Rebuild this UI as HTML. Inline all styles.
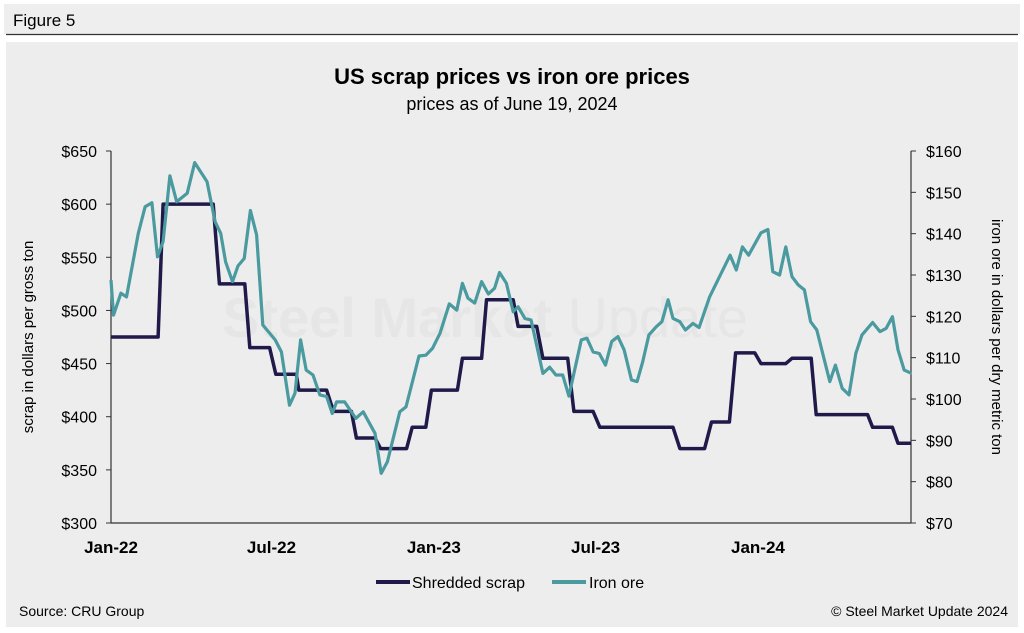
<!DOCTYPE html>
<html><head><meta charset="utf-8">
<style>
body{margin:0;width:1024px;height:633px;background:#fff;font-family:"Liberation Sans",sans-serif;overflow:hidden}
svg{position:absolute;left:0;top:0}
</style></head>
<body>
<svg width="1024" height="633">
<rect x="4" y="4" width="1016" height="30" fill="#eeeeee"/>
<text x="13" y="26" font-size="17" fill="#000">Figure 5</text>
<line x1="6" y1="34.5" x2="1018" y2="34.5" stroke="#333" stroke-width="1.2"/>
<rect x="5" y="41" width="1014" height="587" fill="#ededed" stroke="#fff" stroke-width="2"/>
<text x="512" y="84" font-size="22" font-weight="bold" text-anchor="middle">US scrap prices vs iron ore prices</text>
<text x="512" y="110" font-size="18" text-anchor="middle">prices as of June 19, 2024</text>
<text x="485" y="337" font-size="56" font-weight="bold" fill="#e6e6e6" text-anchor="middle">Steel Market <tspan font-weight="normal">Update</tspan></text>
<g id="axes"></g>
<g id="series"></g>
<text x="33" y="337" font-size="15" text-anchor="middle" transform="rotate(-90 33 337)">scrap in dollars per gross ton</text>
<text x="992" y="337" font-size="15" text-anchor="middle" transform="rotate(90 992 337)">iron ore in dollars per dry metric ton</text>
<g>
<line x1="376" y1="582" x2="410" y2="582" stroke="#1f1a4a" stroke-width="4"/>
<text x="412" y="588" font-size="16">Shredded scrap</text>
<line x1="552" y1="582" x2="586" y2="582" stroke="#4a9aa0" stroke-width="4"/>
<text x="589" y="588" font-size="16">Iron ore</text>
</g>
<text x="19" y="616" font-size="14">Source: CRU Group</text>
<text x="1008" y="616" font-size="14" text-anchor="end">© Steel Market Update 2024</text>
</svg>
<script>
const leftTicks=[300,350,400,450,500,550,600,650];
const rightTicks=[70,80,90,100,110,120,130,140,150,160];
const xLabels=["Jan-22","Jul-22","Jan-23","Jul-23","Jan-24"];
const xLabelWeeks=[0,25.9,52.1,78.2,104.4];
const scrapWeeks=[0,7.6,8.4,16.5,17.5,21.6,22.4,25.6,26.6,29.9,30.3,34.8,35.9,38.8,39.6,42.6,43.5,47.7,48.6,50.8,51.7,55.9,56.7,59.8,60.6,64.1,64.9,65.7,68.7,69.7,73.7,74.7,77.8,78.9,90.7,91.8,95.8,96.9,99.8,100.8,103.9,104.9,108.9,109.9,113,113.8,122.1,122.9,126.1,127,129.1];
const scrapValues=[475,475,600,600,525,525,465,465,440,440,425,425,405,405,380,380,370,370,390,390,425,425,455,455,510,510,510,485,485,455,455,405,405,390,390,370,370,395,395,460,460,450,450,455,455,402,402,390,390,375,375];
const ironWeeks=[0,0.4,1.6,2.5,4.4,5.5,6.6,7.5,8.4,9.5,10.6,12.3,13.5,15.5,16.8,17.7,18.5,19.6,20.5,21.5,22.5,23.5,24.5,26.5,27.5,28.8,29.7,30.6,31.5,32.6,33.7,34.8,35.7,36.4,37.7,39.5,40.7,42.6,43.6,44.6,46.6,47.6,49.7,50.8,51.9,53.1,54.6,55.8,56.7,57.6,58.7,59.8,60.9,61.9,62.7,63.8,64.9,65.7,66.8,67.8,69.7,70.8,71.8,72.9,73.9,75.9,76.8,77.8,78.8,79.8,80.8,81.8,82.8,84,84.9,85.8,86.8,88,88.9,89.9,90.7,91.8,92.7,93.9,94.9,96.6,98.2,99.9,100.9,101.9,102.9,104.9,106,106.8,107.9,108.9,109.9,110.9,111.9,112.9,113.9,116,116.9,118,119.1,120.2,121.2,122.9,124.1,125.1,126.1,127,128,129.2];
const ironValues=[128.8,120.3,125.6,124.7,140.1,146.5,147.5,134.4,138.1,154,147.7,149.8,157.2,152.6,142.9,140.1,133.2,128.4,132.2,134,145.6,139.7,117.9,114.3,111.4,98.5,101.4,114.3,107,105.8,101,100.6,96.5,99.3,99.3,95.3,96.9,91.7,82,84.8,96.9,98.1,110.4,110.6,112.3,115.9,123,121.5,128,124.4,123.2,128.4,125.4,126.8,130.6,128,121.1,122.3,119.5,119.1,106.2,107.7,105.8,105.8,100.7,114.3,114.7,111.4,111,108.2,113.9,115.1,111.9,104.6,104.2,109,115.5,117.5,118.7,124,119.5,118.7,116.7,118.3,117.3,124.7,129.6,134.8,131.2,136.8,134.8,140.2,141,130.8,130,136.8,129.6,127.6,126.4,118.7,116.7,104.2,108.2,102.6,101,111,115.5,118.5,116.3,117.1,119.9,111.9,107,106.2];

const X0=111,X1=911,Y0=151,Y1=523,WMAX=129.1;
const xs=w=>X0+(w/WMAX)*(X1-X0);
const yl=v=>Y1-(v-300)/(650-300)*(Y1-Y0);
const yr=v=>Y1-(v-70)/(160-70)*(Y1-Y0);
const NS="http://www.w3.org/2000/svg";
function mk(tag,attrs,parent,txt){const e=document.createElementNS(NS,tag);for(const k in attrs)e.setAttribute(k,attrs[k]);if(txt!==undefined)e.textContent=txt;parent.appendChild(e);return e;}
const ax=document.getElementById('axes');
let e;
e=mk('line',{x1:X0,y1:Y0,x2:X0,y2:Y1,stroke:'#333','stroke-width':1.2},ax);


e=mk('line',{x1:X1,y1:Y0,x2:X1,y2:Y1,stroke:'#333','stroke-width':1.2},ax);


e=mk('line',{x1:X0,y1:Y1,x2:X1,y2:Y1,stroke:'#333','stroke-width':1.2},ax);


leftTicks.forEach(v=>{const y=yl(v);
mk('line',{x1:X0-5,y1:y,x2:X0,y2:y,stroke:'#333'},ax);
e=mk('text',{x:X0-14,y:y+6,'font-size':16,'text-anchor':'end'},ax,'$'+v);

});
rightTicks.forEach(v=>{const y=yr(v);
mk('line',{x1:X1,y1:y,x2:X1+5,y2:y,stroke:'#333'},ax);
e=mk('text',{x:X1+15,y:y+6,'font-size':16},ax,'$'+v);

});
xLabels.forEach((t,i)=>{const x=xs(xLabelWeeks[i]);
e=mk('text',{x:x,y:553,'font-size':17,'font-weight':'bold','text-anchor':'middle'},ax,t);

});
const sg=document.getElementById('series');
function path(ws,vs,yf){return ws.map((w,i)=>(i?'L':'M')+xs(w).toFixed(1)+','+yf(vs[i]).toFixed(1)).join('');}
e=mk('path',{d:path(scrapWeeks,scrapValues,yl),fill:'none',stroke:'#1f1a4a','stroke-width':3.5,'stroke-linejoin':'round'},sg);


e=mk('path',{d:path(ironWeeks,ironValues,yr),fill:'none',stroke:'#4a9aa0','stroke-width':3.2,'stroke-linejoin':'round'},sg);


</script>
</body></html>
